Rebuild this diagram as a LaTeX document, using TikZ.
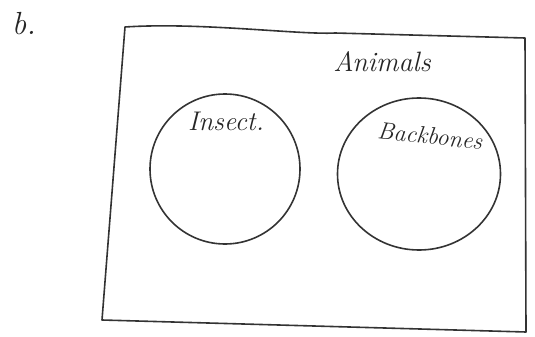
\documentclass[tikz,border=0pt]{standalone}
\usetikzlibrary{shapes.geometric}
\begin{document}
\begin{tikzpicture}[x=1pt,y=-1pt,
  ink/.style={draw=black!80, line width=1.6pt, line join=round, line cap=round},
  hand/.style={text=black!85, inner sep=1pt}]
\useasboundingbox (0,0) rectangle (535,337);
% frame corners
\coordinate (tl) at (125,27);
\coordinate (tr) at (525,38);
\coordinate (br) at (526,332);
\coordinate (bl) at (102,320);
\draw[ink] (tl) .. controls (200,22) and (300,35) .. (335,33) -- (tr) -- (br) -- (bl) -- cycle;
% circles
\node[ink, ellipse, minimum width=150pt, minimum height=150pt, inner sep=0pt] (insect) at (225,169) {};
\node[ink, ellipse, minimum width=163pt, minimum height=152pt, inner sep=0pt] (back) at (419,174) {};
% labels
\node[hand, font=\itshape\fontsize{32}{34}\selectfont] (b) at (24,24) {b.};
\node[hand, font=\itshape\fontsize{28}{30}\selectfont] (animals) at (382,62) {Animals};
\node[hand, font=\itshape\fontsize{27}{29}\selectfont] (tinsect) at (226,121) {Insect.};
\node[hand, font=\itshape\fontsize{24}{26}\selectfont, rotate=-6] (tback) at (430,136) {Backbones};
\end{tikzpicture}
\end{document}
